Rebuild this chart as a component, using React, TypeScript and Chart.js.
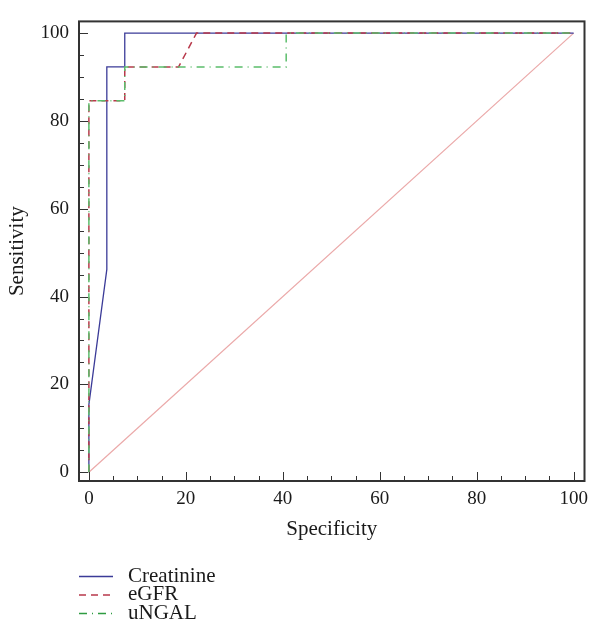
import React, { useEffect, useRef } from "react";
import { Chart, registerables } from "chart.js";

Chart.register(...registerables);

// ---- data ----
const xTickValues = [0, 20, 40, 60, 80, 100];
const yTickValues = [0, 20, 40, 60, 80, 100];
const seriesNames = ["Creatinine", "eGFR", "uNGAL"];

const creatinineSpec = [0, 0, 3.7, 3.7, 7.4, 7.4, 100];
const creatinineSens = [0, 15.4, 46.2, 92.3, 92.3, 100, 100];

const egfrSpec = [0, 0, 7.4, 7.4, 18.5, 22.2, 100];
const egfrSens = [0, 84.6, 84.6, 92.3, 92.3, 100, 100];

const ungalSpec = [0, 0, 7.4, 7.4, 40.7, 40.7, 100];
const ungalSens = [0, 84.6, 84.6, 92.3, 92.3, 100, 100];

const refSpec = [0, 100];
const refSens = [0, 100];

const FONT = "'Liberation Serif', 'Times New Roman', serif";

const toPoints = (xs: number[], ys: number[]) => xs.map((x, i) => ({ x, y: ys[i] }));

const framePlugin = {
  id: "frameTicksLegend",
  afterDraw(chart: any) {
    const { ctx, chartArea: a, scales } = chart;
    const x = scales.x;
    const y = scales.y;
    ctx.save();
    ctx.strokeStyle = "#333";
    ctx.lineWidth = 1;
    for (let v = 0; v <= 100; v += 5) {
      const len = v % 20 === 0 ? 9 : 5;
      const px = Math.round(x.getPixelForValue(v)) + 0.5;
      ctx.beginPath();
      ctx.moveTo(px, a.bottom);
      ctx.lineTo(px, a.bottom - len);
      ctx.stroke();
      const py = Math.round(y.getPixelForValue(v)) + 0.5;
      ctx.beginPath();
      ctx.moveTo(a.left, py);
      ctx.lineTo(a.left + len, py);
      ctx.stroke();
    }
    ctx.lineWidth = 2;
    ctx.strokeStyle = "#333";
    ctx.strokeRect(a.left, a.top, a.right - a.left, a.bottom - a.top);

    // legend
    const rows = [576, 594.5, 613];
    chart.data.datasets.slice(0, 3).forEach((ds: any, i: number) => {
      const ry = rows[i];
      ctx.beginPath();
      ctx.setLineDash(ds.borderDash || []);
      ctx.strokeStyle = ds.legendColor || ds.borderColor;
      ctx.lineWidth = ds.borderWidth;
      ctx.moveTo(a.left, ry + 0.5);
      ctx.lineTo(a.left + 34, ry + 0.5);
      ctx.stroke();
      ctx.setLineDash([]);
      ctx.fillStyle = "#1a1a1a";
      ctx.font = `21px ${FONT}`;
      ctx.textBaseline = "middle";
      ctx.textAlign = "left";
      ctx.fillText(ds.label, a.left + 49, ry);
    });
    ctx.restore();
  },
};

export default function App() {
  const canvasRef = useRef<HTMLCanvasElement | null>(null);

  useEffect(() => {
    if (!canvasRef.current) return;
    const chart = new Chart(canvasRef.current, {
      type: "scatter",
      data: {
        datasets: [
          {
            label: seriesNames[0],
            data: toPoints(creatinineSpec, creatinineSens),
            showLine: true,
            borderColor: "#3b3b98",
            borderWidth: 1.3,
            pointRadius: 0,
            order: 3,
          } as any,
          {
            label: seriesNames[1],
            data: toPoints(egfrSpec, egfrSens),
            showLine: true,
            borderColor: "#b8394b",
            borderWidth: 1.5,
            borderDash: [7, 5],
            pointRadius: 0,
            order: 2,
          },
          {
            label: seriesNames[2],
            data: toPoints(ungalSpec, ungalSens),
            showLine: true,
            borderColor: "#5bbd6b",
            legendColor: "#2f9c42",
            borderWidth: 1.5,
            borderDash: [8, 5, 1, 5],
            pointRadius: 0,
            order: 1,
          },
          {
            label: "reference",
            data: toPoints(refSpec, refSens),
            showLine: true,
            borderColor: "#eba9a9",
            borderWidth: 1.2,
            pointRadius: 0,
            order: 4,
          },
        ],
      },
      options: {
        animation: false,
        responsive: false,
        devicePixelRatio: 1,
        layout: { padding: { left: 5, top: 10, right: 5, bottom: 99 } },
        plugins: { legend: { display: false }, tooltip: { enabled: false } },
        scales: {
          x: {
            type: "linear",
            min: -2.04,
            max: 102.24,
            grid: { display: false, drawTicks: false },
            border: { display: false },
            afterBuildTicks: (s: any) => {
              s.ticks = xTickValues.map((v) => ({ value: v }));
            },
            afterFit: (s: any) => {
              s.height = 61;
            },
            ticks: {
              padding: 7,
              maxRotation: 0,
              autoSkip: false,
              color: "#1a1a1a",
              font: { family: FONT, size: 19 },
            },
            title: {
              display: true,
              text: "Specificity",
              color: "#1a1a1a",
              padding: { top: 0, bottom: 0 },
              font: { family: FONT, size: 21 },
            },
          },
          y: {
            type: "linear",
            min: -2,
            max: 102.67,
            grid: { display: false, drawTicks: false },
            border: { display: false },
            afterBuildTicks: (s: any) => {
              s.ticks = yTickValues.map((v) => ({ value: v }));
            },
            afterFit: (s: any) => {
              s.width = 74;
            },
            ticks: {
              padding: 10,
              autoSkip: false,
              color: "#1a1a1a",
              font: { family: FONT, size: 19 },
            },
            title: {
              display: true,
              text: "Sensitivity",
              color: "#1a1a1a",
              padding: { top: 0, bottom: 0 },
              font: { family: FONT, size: 21 },
            },
          },
        },
      },
      plugins: [framePlugin],
    });
    return () => chart.destroy();
  }, []);

  return (
    <div style={{ position: "absolute", left: 0, top: 0, width: 595, height: 641, background: "#fff" }}>
      <canvas ref={canvasRef} width={595} height={641} />
    </div>
  );
}
